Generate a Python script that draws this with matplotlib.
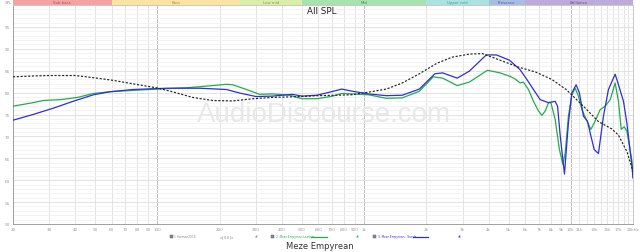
import matplotlib
matplotlib.use("Agg")
import matplotlib.pyplot as plt
from matplotlib.patches import Rectangle
from matplotlib.ticker import FixedLocator, NullFormatter, FixedFormatter

# ---------------- data ----------------
harman_f = [20, 25, 30, 40, 51, 61, 76, 99, 118, 148, 185, 231, 290, 360, 490, 600, 870,
            1050, 1280, 1530, 1850, 2250, 2670, 3230, 3730, 4550, 5600, 6750, 8100, 9500,
            11500, 13600, 15800, 17000, 18700, 20000]
harman_db = [83.6, 83.8, 83.9, 83.9, 83.3, 82.8, 82.0, 81.1, 80.2, 78.9, 78.2, 78.1, 78.6,
             78.9, 79.1, 79.3, 79.5, 80.1, 80.8, 82.2, 84.3, 86.7, 88.1, 88.8, 88.9, 87.4,
             85.8, 84.7, 83.0, 80.7, 76.9, 73.4, 71.7, 70.3, 66.5, 62.0]

leather_f = [20, 25, 28, 34, 41, 49, 59, 76, 99, 138, 185, 216, 231, 270, 312, 360, 437,
             500, 590, 706, 780, 880, 1050, 1280, 1530, 1850, 2160, 2400, 2820, 3230, 3950,
             4550, 5090, 5380, 5690, 5900, 6240, 6600, 6980, 7250, 7520, 7800, 8010, 8400,
             8810, 9160, 9400, 9740, 10120, 10500, 10890, 11320, 11870, 12510, 13120,
             13870, 14670, 15520, 16390, 17010, 17540, 18130, 18680, 19760, 20000]
leather_db = [76.9, 77.7, 78.2, 78.4, 78.9, 79.8, 80.2, 80.5, 80.8, 81.1, 81.6, 81.9, 81.8,
              80.7, 79.6, 79.7, 79.4, 78.6, 78.6, 79.2, 79.8, 79.7, 79.5, 78.7, 78.8, 80.3,
              83.6, 83.3, 81.6, 82.4, 85.1, 84.5, 83.7, 83.1, 82.2, 82.4, 80.7, 78.0, 75.8,
              74.8, 75.8, 77.7, 77.7, 73.9, 67.0, 63.6, 66.3, 74.6, 79.5, 81.0, 79.2, 76.1,
              73.9, 71.6, 73.5, 76.1, 76.9, 78.4, 82.2, 78.0, 71.6, 72.2, 71.2, 64.4, 60.6]

suede_f = [20, 25, 31.6, 39, 49, 59, 76, 111, 160, 216, 250, 300, 360, 450, 500, 590, 680,
           780, 880, 1050, 1280, 1530, 1850, 2200, 2400, 2820, 3230, 3900, 4370, 5050, 5690,
           6130, 6600, 7110, 7800, 8400, 8630, 8890, 9320, 9740, 10120, 10610, 11010,
           11520, 12040, 12510, 12980, 13610, 14390, 15210, 16390, 17010, 17990, 18670,
           19760, 20000]
suede_db = [73.7, 75.0, 76.5, 78.0, 79.5, 80.2, 80.7, 81.0, 81.0, 80.7, 79.9, 79.1, 79.2,
            79.6, 79.2, 79.4, 80.1, 80.8, 80.3, 79.7, 79.3, 79.4, 80.8, 84.3, 84.5, 83.3,
            84.9, 88.6, 88.6, 87.4, 85.2, 83.0, 80.7, 78.4, 77.7, 78.0, 76.9, 70.1, 61.4,
            73.1, 79.9, 81.8, 79.9, 74.6, 73.5, 70.1, 67.0, 66.1, 74.6, 80.7, 84.2, 81.8,
            78.0, 73.1, 63.3, 60.5]

band_names = ["Sub bass", "Bass", "Low mid", "Mid", "Upper mid", "Presence", "Brilliance"]
band_edges = [20, 60, 250, 500, 2000, 4000, 6000, 20000]
band_colors = ["#f4a3a3", "#fbe3a2", "#d9eea6", "#a6e3ae", "#a9e2de", "#a9bce6", "#bcaad8"]
band_text_colors = ["#b05050", "#a89040", "#80a050", "#409050", "#40a0a0", "#5060a0", "#6a5090"]

xtick_vals = [20, 30, 40, 50, 60, 70, 80, 90, 100, 200, 300, 400, 500, 600, 700, 800, 900,
              1000, 2000, 3000, 4000, 5000, 6000, 7000, 8000, 9000, 10000, 11000, 13000,
              15000, 17000, 20000]
xtick_labels = ["20", "30", "40", "50", "60", "70", "80", "90", "100", "200", "300", "400",
                "500", "600", "700", "800", "900", "1k", "2k", "3k", "4k", "5k", "6k", "7k",
                "8k", "9k", "10k", "11k", "13k", "15k", "17k", "20kHz"]
ytick_vals = [50, 55, 60, 65, 70, 75, 80, 85, 90, 95]
ytick_labels = ["50", "55", "60", "65", "70", "75", "80", "85", "90", "95"]

# ---------------- figure ----------------
W, H = 640, 253
fig = plt.figure(figsize=(W / 100, H / 100), dpi=100)
fig.patch.set_facecolor("white")
ax_l, ax_r, ax_t, ax_b = 13, 633, 6, 225
ax = fig.add_axes([ax_l / W, 1 - ax_b / H, (ax_r - ax_l) / W, (ax_b - ax_t) / H])
ax.set_xscale("log")
ax.set_xlim(20, 20000)
ax.set_ylim(50, 100)

# grid
minor_x = [v for d in (10, 100, 1000) for v in range(2 * d, 10 * d + 1, d)]
minor_x += list(range(11000, 20000, 1000))
for v in minor_x:
    c = "#bdbdbd" if v in (100, 1000, 10000) else "#e3e3e3"
    ax.axvline(v, color=c, lw=0.7, zorder=0)
for v in range(51, 100):
    c = "#dddddd" if v % 5 == 0 else "#f1f1f1"
    ax.axhline(v, color=c, lw=0.6, zorder=0)

ax.xaxis.set_major_locator(FixedLocator(xtick_vals))
ax.xaxis.set_major_formatter(FixedFormatter(xtick_labels))
ax.xaxis.set_minor_locator(FixedLocator([]))
ax.xaxis.set_minor_formatter(NullFormatter())
ax.set_yticks(ytick_vals)
ax.set_yticklabels(ytick_labels)
ax.tick_params(axis="both", length=0, labelsize=3.0, colors="#9a9a9a", pad=2)
for s in ax.spines.values():
    s.set_color("#c8c8c8")
    s.set_linewidth(0.7)
ax.spines["left"].set_color("#a0a0a0")
ax.spines["bottom"].set_color("#a0a0a0")

# watermark
ax.text(0.502, 0.50, "AudioDiscourse.com", transform=ax.transAxes, ha="center",
        va="center", fontsize=20, color="#e8e8e8", family="Liberation Sans", zorder=1)

# curves
ax.plot(leather_f, leather_db, color="#22ad4c", lw=0.9, zorder=3)
ax.plot(suede_f, suede_db, color="#2f2fd2", lw=0.9, zorder=4)
ax.plot(harman_f, harman_db, color="#222222", lw=0.85, ls=(0, (1.8, 1.4)), zorder=5)

# band strip
for i, name in enumerate(band_names):
    x0, x1 = band_edges[i], band_edges[i + 1]
    r = Rectangle((x0, 1.0), x1 - x0, 5.5 / (ax_b - ax_t),
                  transform=ax.get_xaxis_transform(), facecolor=band_colors[i],
                  edgecolor="none", clip_on=False, zorder=6)
    ax.add_patch(r)
    xm = (x0 * x1) ** 0.5
    ax.text(xm, 1.0 + 2.7 / (ax_b - ax_t), name, transform=ax.get_xaxis_transform(),
            ha="center", va="center", fontsize=2.8, color=band_text_colors[i],
            clip_on=False, zorder=7)

fig.text(8 / W, 1 - 3 / H, "SPL", ha="center", va="center", fontsize=3, color="#9a9a9a")
fig.text(322 / W, 1 - 11.5 / H, "All SPL", ha="center", va="center", fontsize=6.3,
         color="#222222")

# legend row
ly = 1 - 237.5 / H
def box(x):
    fig.patches.append(Rectangle((x / W, ly - 1.7 / H), 3.4 / W, 3.4 / H,
                                 transform=fig.transFigure,
                                 facecolor="#8a8a8a", edgecolor="#555555", lw=0.3))
box(169.5)
fig.text(174 / W, ly, "1 Harman2018", fontsize=2.1, color="#8a8a8a", va="center")
fig.text(226.5 / W, ly, "<[ 0.0 ]>", fontsize=2.1, color="#666666", va="center",
         ha="center")
fig.text(257 / W, ly, "dB", fontsize=2.1, color="#8a8a8a", va="center", ha="center")
box(271)
fig.text(275.5 / W, ly, "2. Meze Empyrean Leather", fontsize=2.1, color="#22ad4c",
         va="center")
fig.lines.append(plt.Line2D([311 / W, 327 / W], [ly, ly], transform=fig.transFigure,
                            color="#22ad4c", lw=0.9))
fig.text(358 / W, ly, "dB", fontsize=2.1, color="#22ad4c", va="center", ha="center")
box(373)
fig.text(377.5 / W, ly, "3. Meze Empyrean - Suede", fontsize=2.1, color="#2f2fd2",
         va="center")
fig.lines.append(plt.Line2D([413 / W, 428 / W], [ly, ly], transform=fig.transFigure,
                            color="#2f2fd2", lw=0.9))
fig.text(460 / W, ly, "dB", fontsize=2.1, color="#2f2fd2", va="center", ha="center")

fig.text(320 / W, 1 - 247 / H, "Meze Empyrean", ha="center", va="center", fontsize=6,
         color="#333333")

fig.savefig("out.png", dpi=100, facecolor="white")
